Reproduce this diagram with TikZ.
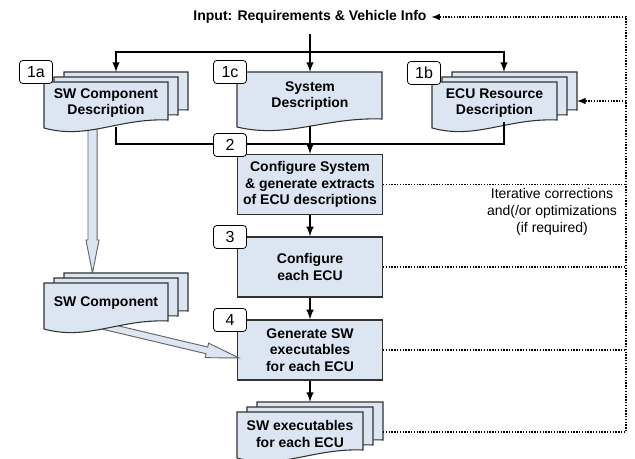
\documentclass[tikz,border=0pt]{standalone}
\usepackage{fontspec}
\setmainfont{Liberation Sans}
\usepackage{tikz}
\usetikzlibrary{calc}

\definecolor{boxfill}{RGB}{220,230,242}
\definecolor{boxline}{RGB}{50,50,50}
\definecolor{arrowline}{RGB}{100,100,100}

\tikzset{
  docline/.style={draw=boxline, fill=boxfill, line width=0.8pt},
  pics/docpage/.style 2 args={code={
    \draw[docline] (0,0) -- (0,#2) .. controls (0.35*#1,#2+12) and (0.6*#1,#2-10) .. (#1,#2-8) -- (#1,0) -- cycle;
  }},
  pics/docstack/.style 2 args={code={
    \pic at (20,-10) {docpage={#1}{#2}};
    \pic at (10,-5) {docpage={#1}{#2}};
    \pic at (0,0) {docpage={#1}{#2}};
  }},
  doctext/.style={font=\bfseries\fontsize{10.5}{12.5}\selectfont, align=center},
  stepbox/.style={draw=boxline, fill=boxfill, line width=0.8pt, minimum width=108.75pt, minimum height=45pt, align=center, font=\bfseries\fontsize{10.5}{12.5}\selectfont},
  numtag/.style={draw=black, fill=white, rounded corners=2.5pt, line width=0.6pt, minimum width=24.75pt, minimum height=17.25pt, inner sep=0pt, font=\fontsize{12}{14}\selectfont},
  flow/.style={line width=1.5pt, -latex},
  busline/.style={line width=1.5pt},
  loopline/.style={line width=1.2pt, dash pattern=on 1pt off 1.1pt},
  fatarrow/.style={draw=arrowline, fill=boxfill, line width=0.7pt},
}

\begin{document}
\begin{tikzpicture}[x=0.75pt, y=-0.75pt]
\useasboundingbox (0,0) rectangle (635,459);

% steps
\node[stepbox] (cfgsys) at (310,184.5) {Configure System\\\& generate extracts\\of ECU descriptions};
\node[stepbox] (cfgecu) at (310,267) {Configure\\each ECU};
\node[stepbox] (gensw) at (310,350) {Generate SW\\executables\\for each ECU};

% hollow arrows
\coordinate (fatA) at (92.5,125);
\coordinate (fatB) at (92.5,273);
\coordinate (fatH) at ($(fatB)!24.75pt!(fatA)$);
\draw[fatarrow] ($(fatA)!3.4pt!90:(fatB)$) -- ($(fatH)!3.4pt!90:(fatB)$) -- ($(fatH)!4.9pt!90:(fatB)$) -- (fatB)
  -- ($(fatH)!4.9pt!-90:(fatB)$) -- ($(fatH)!3.4pt!-90:(fatB)$) -- ($(fatA)!3.4pt!-90:(fatB)$) -- cycle;
\coordinate (slimA) at (104,326);
\coordinate (slimB) at (239,358);
\coordinate (slimH) at ($(slimB)!24.75pt!(slimA)$);
\draw[fatarrow] ($(slimA)!2.6pt!90:(slimB)$) -- ($(slimH)!2.6pt!90:(slimB)$) -- ($(slimH)!5.6pt!90:(slimB)$) -- (slimB)
  -- ($(slimH)!5.6pt!-90:(slimB)$) -- ($(slimH)!2.6pt!-90:(slimB)$) -- ($(slimA)!2.6pt!-90:(slimB)$) -- cycle;

% documents
\pic at (44,82) {docstack={124}{46}};
\pic at (237,72) {docpage={145}{55}};
\pic at (432,82) {docstack={125}{46}};
\pic at (44,283) {docstack={124}{46}};
\pic at (237,412) {docstack={126}{46}};

\node[doctext] (swcd) at (106,103) {SW Component\\Description};
\node[doctext] (sysd) at (310,96) {System\\Description};
\node[doctext] (ecud) at (494.5,103) {ECU Resource\\Description};
\node[doctext] (swc) at (106,303) {SW Component};
\node[doctext] (swexe) at (300,434) {SW executables\\for each ECU};

\node[font=\bfseries\fontsize{10.5}{12.5}\selectfont, inner ysep=7.5pt] (input) at (310,17) {Input: Requirements \& Vehicle Info};
\node[align=center, font=\fontsize{10.5}{12.75}\selectfont] (iter) at (552,212) {Iterative corrections\\and(/or optimizations\\(if required)};

\coordinate (swcdtop) at (116,72);
\coordinate (ecudtop) at (504,72);
\coordinate (sysdtop) at (310,72);
\coordinate (sysdbot) at (310,126);
\coordinate (swcdbot) at (116,127);
\coordinate (ecudbot) at (504,122);
\coordinate (topbus) at (310,52);
\coordinate (lowbus) at (310,144);
\coordinate (swexetop) at (310,402);
\coordinate (swexeside) at (383,432);
\coordinate (ecudside) at (577,101);
\coordinate (loopedge) at (626,0);

% solid flow
\draw[flow] (input) -- (sysdtop);
\draw[busline, latex-latex] (swcdtop) -- (swcdtop |- topbus) -- (ecudtop |- topbus) -- (ecudtop);
\draw[busline] (swcdbot) -- (swcdbot |- lowbus) -- (ecudbot |- lowbus) -- (ecudbot);
\draw[flow] (sysdbot) -- (cfgsys);
\draw[flow] (cfgsys) -- (cfgecu);
\draw[flow] (cfgecu) -- (gensw);
\draw[flow] (gensw) -- (swexetop);

% feedback loop
\draw[loopline, -latex] (swexeside) -- (swexeside -| loopedge) -- (input.east -| loopedge) -- (input.east);
\draw[loopline] (cfgsys.east) -- (cfgsys.east -| loopedge);
\draw[loopline] (cfgecu.east) -- (cfgecu.east -| loopedge);
\draw[loopline] (gensw.east) -- (gensw.east -| loopedge);
\draw[loopline, -latex] (ecudside -| loopedge) -- (ecudside);

% step numbers
\node[numtag] (tag1a) at (36,72) {1a};
\node[numtag] (tag1c) at (230,72) {1c};
\node[numtag] (tag1b) at (424,73) {1b};
\node[numtag] (tag2) at (230,145) {2};
\node[numtag] (tag3) at (230,237) {3};
\node[numtag] (tag4) at (230,320) {4};
\end{tikzpicture}
\end{document}
